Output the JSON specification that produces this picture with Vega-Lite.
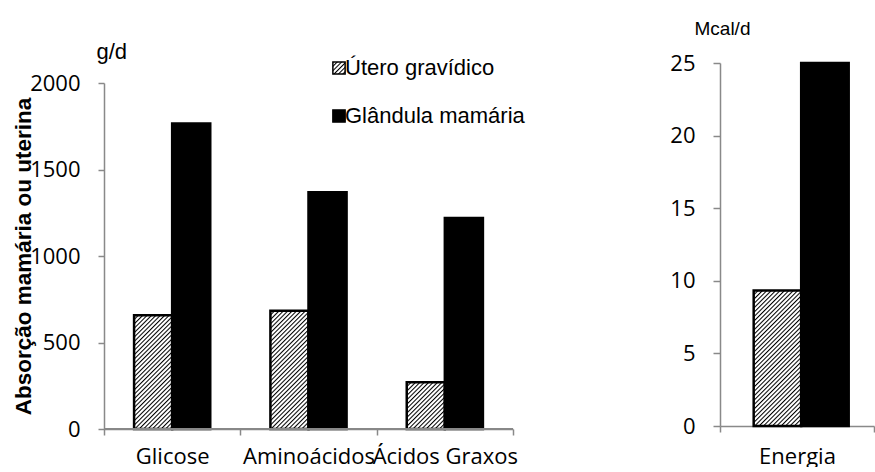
{
  "$schema": "https://vega.github.io/schema/vega-lite/v6.json",
  "background": "white",
  "padding": {"left": 11, "top": 19, "right": 0, "bottom": 0},
  "spacing": 144,
  "params": [
    {
      "name": "hatch",
      "value": [
        {"offset": 0, "color": "#000"}, {"offset": 0.007, "color": "#fff"}, {"offset": 0.014, "color": "#fff"},
        {"offset": 0.02, "color": "#000"}, {"offset": 0.027, "color": "#fff"}, {"offset": 0.034, "color": "#fff"},
        {"offset": 0.04, "color": "#000"}, {"offset": 0.047, "color": "#fff"}, {"offset": 0.054, "color": "#fff"},
        {"offset": 0.06, "color": "#000"}, {"offset": 0.067, "color": "#fff"}, {"offset": 0.074, "color": "#fff"},
        {"offset": 0.08, "color": "#000"}, {"offset": 0.087, "color": "#fff"}, {"offset": 0.094, "color": "#fff"},
        {"offset": 0.1, "color": "#000"}, {"offset": 0.107, "color": "#fff"}, {"offset": 0.114, "color": "#fff"},
        {"offset": 0.12, "color": "#000"}, {"offset": 0.127, "color": "#fff"}, {"offset": 0.134, "color": "#fff"},
        {"offset": 0.14, "color": "#000"}, {"offset": 0.147, "color": "#fff"}, {"offset": 0.154, "color": "#fff"},
        {"offset": 0.16, "color": "#000"}, {"offset": 0.167, "color": "#fff"}, {"offset": 0.174, "color": "#fff"},
        {"offset": 0.18, "color": "#000"}, {"offset": 0.187, "color": "#fff"}, {"offset": 0.194, "color": "#fff"},
        {"offset": 0.2, "color": "#000"}, {"offset": 0.207, "color": "#fff"}, {"offset": 0.214, "color": "#fff"},
        {"offset": 0.22, "color": "#000"}, {"offset": 0.227, "color": "#fff"}, {"offset": 0.234, "color": "#fff"},
        {"offset": 0.24, "color": "#000"}, {"offset": 0.247, "color": "#fff"}, {"offset": 0.254, "color": "#fff"},
        {"offset": 0.26, "color": "#000"}, {"offset": 0.267, "color": "#fff"}, {"offset": 0.274, "color": "#fff"},
        {"offset": 0.28, "color": "#000"}, {"offset": 0.287, "color": "#fff"}, {"offset": 0.294, "color": "#fff"},
        {"offset": 0.3, "color": "#000"}, {"offset": 0.307, "color": "#fff"}, {"offset": 0.314, "color": "#fff"},
        {"offset": 0.32, "color": "#000"}, {"offset": 0.327, "color": "#fff"}, {"offset": 0.334, "color": "#fff"},
        {"offset": 0.34, "color": "#000"}, {"offset": 0.347, "color": "#fff"}, {"offset": 0.354, "color": "#fff"},
        {"offset": 0.36, "color": "#000"}, {"offset": 0.367, "color": "#fff"}, {"offset": 0.374, "color": "#fff"},
        {"offset": 0.38, "color": "#000"}, {"offset": 0.387, "color": "#fff"}, {"offset": 0.394, "color": "#fff"},
        {"offset": 0.4, "color": "#000"}, {"offset": 0.407, "color": "#fff"}, {"offset": 0.414, "color": "#fff"},
        {"offset": 0.42, "color": "#000"}, {"offset": 0.427, "color": "#fff"}, {"offset": 0.434, "color": "#fff"},
        {"offset": 0.44, "color": "#000"}, {"offset": 0.447, "color": "#fff"}, {"offset": 0.454, "color": "#fff"},
        {"offset": 0.46, "color": "#000"}, {"offset": 0.467, "color": "#fff"}, {"offset": 0.474, "color": "#fff"},
        {"offset": 0.48, "color": "#000"}, {"offset": 0.487, "color": "#fff"}, {"offset": 0.494, "color": "#fff"},
        {"offset": 0.5, "color": "#000"}, {"offset": 0.507, "color": "#fff"}, {"offset": 0.514, "color": "#fff"},
        {"offset": 0.52, "color": "#000"}, {"offset": 0.527, "color": "#fff"}, {"offset": 0.534, "color": "#fff"},
        {"offset": 0.54, "color": "#000"}, {"offset": 0.547, "color": "#fff"}, {"offset": 0.554, "color": "#fff"},
        {"offset": 0.56, "color": "#000"}, {"offset": 0.567, "color": "#fff"}, {"offset": 0.574, "color": "#fff"},
        {"offset": 0.58, "color": "#000"}, {"offset": 0.587, "color": "#fff"}, {"offset": 0.594, "color": "#fff"},
        {"offset": 0.6, "color": "#000"}, {"offset": 0.607, "color": "#fff"}, {"offset": 0.614, "color": "#fff"},
        {"offset": 0.62, "color": "#000"}, {"offset": 0.627, "color": "#fff"}, {"offset": 0.634, "color": "#fff"},
        {"offset": 0.64, "color": "#000"}, {"offset": 0.647, "color": "#fff"}, {"offset": 0.654, "color": "#fff"},
        {"offset": 0.66, "color": "#000"}, {"offset": 0.667, "color": "#fff"}, {"offset": 0.674, "color": "#fff"},
        {"offset": 0.68, "color": "#000"}, {"offset": 0.687, "color": "#fff"}, {"offset": 0.694, "color": "#fff"},
        {"offset": 0.7, "color": "#000"}, {"offset": 0.707, "color": "#fff"}, {"offset": 0.714, "color": "#fff"},
        {"offset": 0.72, "color": "#000"}, {"offset": 0.727, "color": "#fff"}, {"offset": 0.734, "color": "#fff"},
        {"offset": 0.74, "color": "#000"}, {"offset": 0.747, "color": "#fff"}, {"offset": 0.754, "color": "#fff"},
        {"offset": 0.76, "color": "#000"}, {"offset": 0.767, "color": "#fff"}, {"offset": 0.774, "color": "#fff"},
        {"offset": 0.78, "color": "#000"}, {"offset": 0.787, "color": "#fff"}, {"offset": 0.794, "color": "#fff"},
        {"offset": 0.8, "color": "#000"}, {"offset": 0.807, "color": "#fff"}, {"offset": 0.814, "color": "#fff"},
        {"offset": 0.82, "color": "#000"}, {"offset": 0.827, "color": "#fff"}, {"offset": 0.834, "color": "#fff"},
        {"offset": 0.84, "color": "#000"}, {"offset": 0.847, "color": "#fff"}, {"offset": 0.854, "color": "#fff"}
      ]
    }
  ],
  "datasets": {
    "absorcao": [
      {"nutriente": "Glicose", "orgao": "Útero gravídico", "valor": 658},
      {"nutriente": "Glicose", "orgao": "Glândula mamária", "valor": 1766},
      {"nutriente": "Aminoácidos", "orgao": "Útero gravídico", "valor": 684},
      {"nutriente": "Aminoácidos", "orgao": "Glândula mamária", "valor": 1369},
      {"nutriente": "Ácidos Graxos", "orgao": "Útero gravídico", "valor": 270},
      {"nutriente": "Ácidos Graxos", "orgao": "Glândula mamária", "valor": 1219}
    ],
    "energia": [
      {"componente": "Energia", "orgao": "Útero gravídico", "valor": 9.33},
      {"componente": "Energia", "orgao": "Glândula mamária", "valor": 25}
    ]
  },
  "config": {
    "view": {"stroke": null},
    "axis": {
      "grid": false,
      "domainColor": "#898989",
      "domainWidth": 1.5,
      "tickColor": "#898989",
      "tickWidth": 1.5,
      "labelColor": "#000",
      "titleColor": "#000",
      "labelFont": "Open Sans",
      "labelFontSize": 22,
      "titleFont": "Liberation Sans",
      "titleFontSize": 22,
      "titleFontWeight": "normal"
    }
  },
  "resolve": {
    "scale": {"fill": "independent", "xOffset": "independent"},
    "legend": {"fill": "independent"}
  },
  "hconcat": [
    {
      "width": 409,
      "height": 366,
      "data": {"name": "absorcao"},
      "layer": [
        {
          "mark": {"type": "bar", "stroke": "#000", "strokeWidth": 2.5},
          "encoding": {
            "x": {
              "field": "nutriente",
              "type": "nominal",
              "sort": ["Glicose", "Aminoácidos", "Ácidos Graxos"],
              "scale": {"paddingInner": 0, "paddingOuter": 0},
              "axis": {"title": null, "labelAngle": 0, "tickBand": "extent", "tickSize": 6, "labelBaseline": "alphabetic", "labelPadding": 28, "labelOverlap": false, "labelLimit": 0}
            },
            "xOffset": {
              "field": "orgao",
              "sort": ["Útero gravídico", "Glândula mamária"],
              "scale": {"paddingInner": 0, "paddingOuter": 0.79}
            },
            "y": {
              "field": "valor",
              "type": "quantitative",
              "stack": null,
              "scale": {"domain": [0, 2000], "range": [366, 20]},
              "axis": {
                "values": [0, 500, 1000, 1500, 2000],
                "format": "d",
                "tickSize": 6,
                "labelPadding": 18,
                "title": "g/d",
                "titleAngle": 0,
                "titleAlign": "left",
                "titleBaseline": "alphabetic",
                "titleX": -8,
                "titleY": -5
              }
            },
            "fill": {
              "field": "orgao",
              "type": "nominal",
              "scale": {
                "domain": ["Útero gravídico", "Glândula mamária"],
                "range": [{"expr": "{gradient: 'linear', x1: 0, y1: 0, x2: 9, y2: 9, stops: hatch}"}, "#000"]
              },
              "legend": {
                "title": null,
                "orient": "none",
                "legendX": 224,
                "legendY": -6,
                "direction": "vertical",
                "symbolType": "square",
                "symbolSize": 150,
                "symbolStrokeColor": "#000",
                "symbolStrokeWidth": 1.5,
                "labelFont": "Liberation Sans",
                "labelFontSize": 22,
                "labelColor": "#000",
                "labelLimit": 0,
                "labelOffset": -5,
                "rowPadding": 26,
                "padding": 0
              },
              "condition": {
                "test": "datum.orgao === 'Útero gravídico'",
                "value": {"expr": "{gradient: 'linear', x1: 0, y1: 0, x2: 220 * 38.08 / (1450 + pow(0.173 * datum.valor, 2)), y2: 220 * 0.173 * datum.valor / (1450 + pow(0.173 * datum.valor, 2)), stops: hatch}"}
              }
            }
          }
        },
        {
          "mark": {"type": "rule", "color": "#898989", "strokeWidth": 1.5},
          "encoding": {
            "y": {
              "datum": 0,
              "type": "quantitative",
              "axis": {
                "orient": "left",
                "domain": false,
                "ticks": false,
                "labels": false,
                "title": "Absorção mamária ou uterina",
                "titleFontWeight": "bold",
                "titleFontSize": 22.5,
                "titleX": -74,
                "titleY": 193,
                "titleBaseline": "alphabetic"
              }
            }
          }
        }
      ],
      "resolve": {"axis": {"y": "independent"}}
    },
    {
      "width": 154,
      "height": 363,
      "data": {"name": "energia"},
      "mark": {"type": "bar", "stroke": "#000", "strokeWidth": 2.5},
      "encoding": {
        "x": {
          "field": "componente",
          "type": "nominal",
          "scale": {"paddingInner": 0, "paddingOuter": 0},
          "axis": {"title": null, "labelAngle": 0, "tickBand": "extent", "tickSize": 6, "labelBaseline": "alphabetic", "labelPadding": 31}
        },
        "xOffset": {
          "field": "orgao",
          "sort": ["Útero gravídico", "Glândula mamária"],
          "scale": {"paddingInner": 0, "paddingOuter": 0.621, "align": 0.571}
        },
        "y": {
          "field": "valor",
          "type": "quantitative",
          "stack": null,
          "scale": {"domain": [0, 25]},
          "axis": {
            "values": [0, 5, 10, 15, 20, 25],
            "tickSize": 7,
            "labelPadding": 18,
            "title": "Mcal/d",
            "titleFontSize": 19,
            "titleAngle": 0,
            "titleAlign": "left",
            "titleBaseline": "alphabetic",
            "titleX": -26,
            "titleY": -29
          }
        },
        "fill": {
          "field": "orgao",
          "type": "nominal",
          "scale": {
            "domain": ["Útero gravídico", "Glândula mamária"],
            "range": [{"expr": "{gradient: 'linear', x1: 0, y1: 0, x2: 9, y2: 9, stops: hatch}"}, "#000"]
          },
          "legend": null,
          "condition": {
            "test": "datum.orgao === 'Útero gravídico'",
            "value": {"expr": "{gradient: 'linear', x1: 0, y1: 0, x2: 220 * 47.5 / (2256 + pow(14.52 * datum.valor, 2)), y2: 220 * 14.52 * datum.valor / (2256 + pow(14.52 * datum.valor, 2)), stops: hatch}"}
          }
        }
      }
    }
  ]
}
